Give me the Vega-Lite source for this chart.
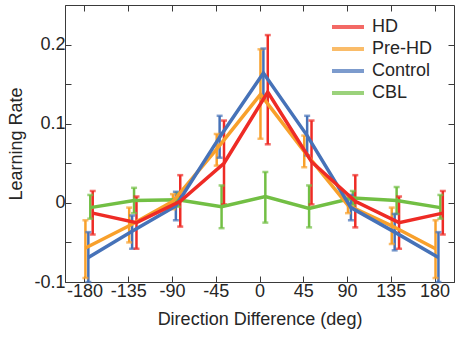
{
  "$schema": "https://vega.github.io/schema/vega-lite/v6.json",
  "autosize": "none",
  "width": 389,
  "height": 277,
  "padding": {"left": 65, "top": 5, "right": 2, "bottom": 55},
  "background": "white",
  "config": {
    "font": "Liberation Sans",
    "view": {"stroke": "#3a3a3a", "strokeWidth": 1},
    "axis": {
      "labelFont": "Liberation Sans",
      "titleFont": "Liberation Sans",
      "labelFontSize": 18,
      "titleFontSize": 18,
      "titleFontWeight": "normal",
      "labelColor": "#262626",
      "titleColor": "#262626",
      "domainColor": "#3a3a3a",
      "tickColor": "#3a3a3a",
      "grid": false,
      "tickSize": -6
    },
    "legend": {
      "labelFont": "Liberation Sans",
      "labelFontSize": 18,
      "labelColor": "#262626"
    }
  },
  "data": {
    "values": [
      {"group": "CBL", "dir": -180, "mean": -0.006, "lo": -0.020, "hi": 0.010},
      {"group": "CBL", "dir": -135, "mean": 0.003, "lo": -0.013, "hi": 0.019},
      {"group": "CBL", "dir": -90, "mean": 0.004, "lo": -0.005, "hi": 0.013},
      {"group": "CBL", "dir": -45, "mean": -0.005, "lo": -0.032, "hi": 0.022},
      {"group": "CBL", "dir": 0, "mean": 0.008, "lo": -0.025, "hi": 0.039},
      {"group": "CBL", "dir": 45, "mean": -0.007, "lo": -0.031, "hi": 0.022},
      {"group": "CBL", "dir": 90, "mean": 0.006, "lo": -0.003, "hi": 0.015},
      {"group": "CBL", "dir": 135, "mean": 0.003, "lo": -0.014, "hi": 0.020},
      {"group": "CBL", "dir": 180, "mean": -0.006, "lo": -0.020, "hi": 0.010},
      {"group": "Pre-HD", "dir": -180, "mean": -0.057, "lo": -0.095, "hi": -0.022},
      {"group": "Pre-HD", "dir": -135, "mean": -0.029, "lo": -0.050, "hi": -0.006},
      {"group": "Pre-HD", "dir": -90, "mean": 0.002, "lo": -0.008, "hi": 0.011},
      {"group": "Pre-HD", "dir": -45, "mean": 0.068, "lo": 0.047, "hi": 0.087},
      {"group": "Pre-HD", "dir": 0, "mean": 0.137, "lo": 0.081, "hi": 0.194},
      {"group": "Pre-HD", "dir": 45, "mean": 0.065, "lo": 0.045, "hi": 0.085},
      {"group": "Pre-HD", "dir": 90, "mean": -0.003, "lo": -0.013, "hi": 0.008},
      {"group": "Pre-HD", "dir": 135, "mean": -0.029, "lo": -0.052, "hi": -0.006},
      {"group": "Pre-HD", "dir": 180, "mean": -0.058, "lo": -0.095, "hi": -0.022},
      {"group": "Control", "dir": -180, "mean": -0.069, "lo": -0.100, "hi": -0.037},
      {"group": "Control", "dir": -135, "mean": -0.036, "lo": -0.058, "hi": -0.016},
      {"group": "Control", "dir": -90, "mean": -0.004, "lo": -0.022, "hi": 0.014},
      {"group": "Control", "dir": -45, "mean": 0.083, "lo": 0.057, "hi": 0.110},
      {"group": "Control", "dir": 0, "mean": 0.164, "lo": 0.133, "hi": 0.195},
      {"group": "Control", "dir": 45, "mean": 0.085, "lo": 0.060, "hi": 0.110},
      {"group": "Control", "dir": 90, "mean": -0.006, "lo": -0.022, "hi": 0.010},
      {"group": "Control", "dir": 135, "mean": -0.037, "lo": -0.060, "hi": -0.014},
      {"group": "Control", "dir": 180, "mean": -0.069, "lo": -0.100, "hi": -0.037},
      {"group": "HD", "dir": -180, "mean": -0.013, "lo": -0.040, "hi": 0.015},
      {"group": "HD", "dir": -135, "mean": -0.025, "lo": -0.058, "hi": 0.008},
      {"group": "HD", "dir": -90, "mean": 0.002, "lo": -0.030, "hi": 0.035},
      {"group": "HD", "dir": -45, "mean": 0.050, "lo": -0.002, "hi": 0.104},
      {"group": "HD", "dir": 0, "mean": 0.140, "lo": 0.074, "hi": 0.212},
      {"group": "HD", "dir": 45, "mean": 0.052, "lo": -0.002, "hi": 0.104},
      {"group": "HD", "dir": 90, "mean": 0.002, "lo": -0.031, "hi": 0.035},
      {"group": "HD", "dir": 135, "mean": -0.025, "lo": -0.058, "hi": 0.008},
      {"group": "HD", "dir": 180, "mean": -0.013, "lo": -0.040, "hi": 0.015}
    ]
  },
  "transform": [
    {"calculate": "datum.dir + (datum.group == 'HD' ? 8.5 : datum.group == 'CBL' ? 6 : datum.group == 'Control' ? 4 : 1)", "as": "xd"}
  ],
  "resolve": {"axis": {"x": "independent", "y": "independent"}},
  "layer": [
    {
      "mark": {"type": "rule", "strokeWidth": 2.5},
      "encoding": {
        "x": {"field": "xd", "type": "quantitative", "scale": {"domain": [-200, 200], "nice": false},
              "axis": {"orient": "top", "values": [-180, -135, -90, -45, 0, 45, 90, 135, 180], "labels": false, "domain": false, "title": null}},
        "y": {"field": "lo", "type": "quantitative", "scale": {"domain": [-0.1, 0.25], "nice": false, "zero": false, "clamp": true},
              "axis": {"orient": "right", "values": [-0.1, -0.05, 0, 0.05, 0.1, 0.15, 0.2], "labels": false, "domain": false, "title": null}},
        "y2": {"field": "hi"},
        "color": {"field": "group", "type": "nominal",
                  "scale": {"domain": ["HD", "Pre-HD", "Control", "CBL"], "range": ["#ee2b25", "#f8a02b", "#4672b8", "#72bf44"]},
                  "legend": {"orient": "none", "legendX": 265, "legendY": 10, "title": null, "symbolType": "M-1.6,0H1.6", "symbolStrokeWidth": 4, "symbolSize": 400, "symbolOpacity": 1, "symbolOffset": 6, "labelOffset": 12, "rowPadding": 1}}
      }
    },
    {
      "mark": {"type": "tick", "orient": "horizontal", "thickness": 2.5, "size": 6},
      "encoding": {
        "x": {"field": "xd", "type": "quantitative", "axis": null},
        "y": {"field": "lo", "type": "quantitative", "axis": null},
        "color": {"field": "group", "type": "nominal"}
      }
    },
    {
      "mark": {"type": "tick", "orient": "horizontal", "thickness": 2.5, "size": 6},
      "encoding": {
        "x": {"field": "xd", "type": "quantitative", "axis": null},
        "y": {"field": "hi", "type": "quantitative", "axis": null},
        "color": {"field": "group", "type": "nominal"}
      }
    },
    {
      "mark": {"type": "line", "strokeWidth": 3.5},
      "encoding": {
        "x": {"field": "xd", "type": "quantitative",
              "axis": {"orient": "bottom", "values": [-180, -135, -90, -45, 0, 45, 90, 135, 180], "labelExpr": "replace(datum.label, '−', '-')", "labelPadding": 6, "title": "Direction Difference (deg)", "titlePadding": 10}},
        "y": {"field": "mean", "type": "quantitative",
              "axis": {"orient": "left", "values": [-0.1, -0.05, 0, 0.05, 0.1, 0.15, 0.2],
                       "labelExpr": "datum.value > 0.19 ? '0.2' : datum.value > 0.09 && datum.value < 0.11 ? '0.1' : abs(datum.value) < 0.001 ? '0' : datum.value < -0.09 ? '-0.1' : ''",
                       "labelPadding": 6, "title": "Learning Rate", "titlePadding": 8}},
        "color": {"field": "group", "type": "nominal"}
      }
    }
  ]
}
